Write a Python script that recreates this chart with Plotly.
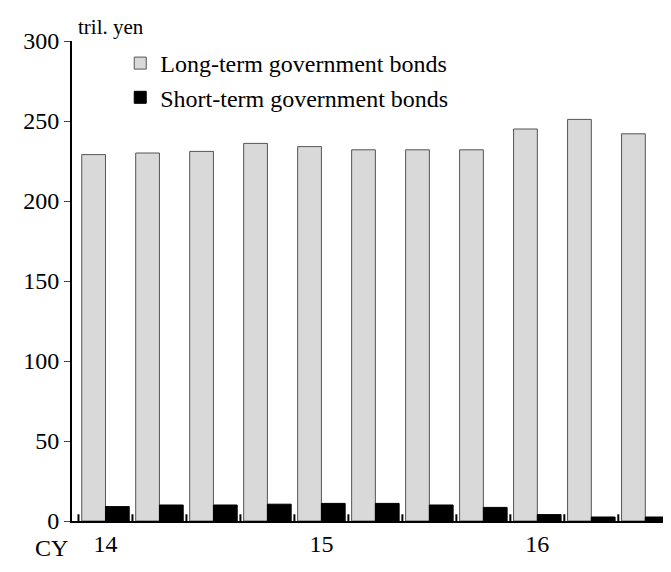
import plotly.graph_objects as go

quarters = list(range(11))
long_term = [229, 230, 231, 236, 234, 232, 232, 232, 245, 251, 242]
short_term = [9, 10, 10, 10.5, 11, 11, 10, 8.5, 4, 2.5, 2.5]
tick_pos = [0, 4, 8]
tick_text = ["14", "15", "16"]
boundaries = [q - 0.5 for q in quarters] + [10.5]

serif = "Liberation Serif"

fig = go.Figure()
fig.add_trace(go.Bar(x=quarters, y=long_term, name="Long-term government bonds",
                     marker=dict(color="#d9d9d9", line=dict(color="#555555", width=1))))
fig.add_trace(go.Bar(x=quarters, y=short_term, name="Short-term government bonds",
                     marker=dict(color="black", line=dict(color="black", width=1))))

# small inward tick marks between quarters
for b in boundaries:
    fig.add_shape(type="line", xref="x", yref="paper", x0=b, x1=b, y0=0, y1=0.014,
                  line=dict(color="black", width=2))

fig.update_layout(
    width=671, height=572, barmode="group", bargap=0.12, bargroupgap=0,
    plot_bgcolor="white", paper_bgcolor="white",
    font=dict(family=serif, size=24, color="black"),
    margin=dict(l=64, r=4, t=33, b=59),
    showlegend=True,
    legend=dict(x=0.08, y=1.0, xanchor="left", yanchor="top", bgcolor="rgba(0,0,0,0)",
                font=dict(family=serif, size=24), itemwidth=30, tracegroupgap=14),
    annotations=[
        dict(text="tril. yen", x=-0.55, xref="x", y=1.0, yref="paper", xanchor="left",
             yanchor="bottom", showarrow=False, font=dict(family=serif, size=21)),
        dict(text="CY", x=0, xref="paper", y=0, yref="paper", xanchor="right",
             yanchor="top", yshift=-12, xshift=-2, showarrow=False, font=dict(family=serif, size=24)),
    ],
)
fig.update_xaxes(range=[-0.62, 10.55], tickvals=tick_pos, ticktext=tick_text, ticks="",
                 showline=True, linecolor="black", linewidth=2, showgrid=False,
                 tickfont=dict(family=serif, size=24))
fig.update_yaxes(range=[0, 300], dtick=50, ticks="outside", ticklen=6, showline=True,
                 linecolor="black", linewidth=2, showgrid=False, zeroline=False,
                 tickfont=dict(family=serif, size=24))

fig.write_html("out.html")
